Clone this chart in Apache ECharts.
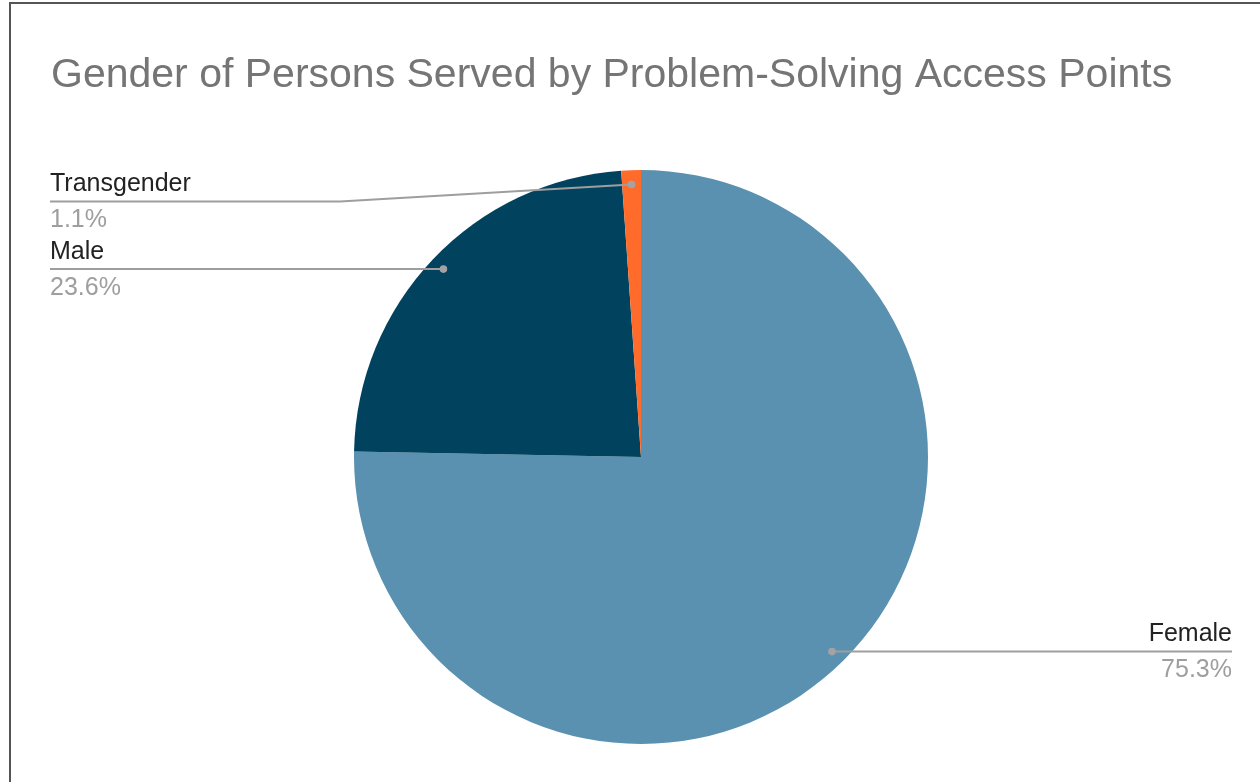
<!DOCTYPE html>
<html>
<head>
<meta charset="utf-8">
<script src="https://cdn.jsdelivr.net/npm/echarts@6/dist/echarts.min.js"></script>
<style>
  html, body { margin: 0; padding: 0; background: #ffffff; }
  #chart { width: 1260px; height: 782px; }
</style>
</head>
<body>
<div id="chart"></div>
<script>
// ---- data ----
const chartTitle = 'Gender of Persons Served by Problem-Solving Access Points';
const categories = ['Female', 'Male', 'Transgender'];
const values = [75.3, 23.6, 1.1];
const sliceColors = ['#5a91b0', '#01425f', '#ff6b2a'];

// ---- layout ----
const CENTER = [641, 457];
const RADIUS = 287;
const FONT = '"Liberation Sans", Arial, Helvetica, sans-serif';
const LEFT_EDGE = 50, RIGHT_EDGE = 1232;
const labelShift = { 'Transgender': { dy: 17, bend: 340 } };

const total = values.reduce((a, b) => a + b, 0);
function midAngle(i) {
  let before = 0;
  for (let k = 0; k < i; k++) before += values[k];
  return -Math.PI / 2 + (before + values[i] / 2) / total * 2 * Math.PI;
}
function dotPoint(i) {
  const a = midAngle(i);
  return [CENTER[0] + 0.95 * RADIUS * Math.cos(a), CENTER[1] + 0.95 * RADIUS * Math.sin(a)];
}
function leaderGeom(i) {
  const d = dotPoint(i);
  const isLeft = d[0] < CENTER[0];
  const sh = labelShift[categories[i]] || { dy: 0, bend: null };
  const ly = d[1] + sh.dy;
  const edgeX = isLeft ? LEFT_EDGE : RIGHT_EDGE;
  const bendX = sh.bend != null ? sh.bend : d[0];
  return { d, isLeft, ly, edgeX, points: [[d[0], d[1]], [bendX, ly], [edgeX, ly]] };
}

const chart = echarts.init(document.getElementById('chart'), null, { renderer: 'canvas' });

const leaders = [];
categories.forEach((c, i) => {
  const g = leaderGeom(i);
  leaders.push({
    type: 'polyline', z: 100, silent: true,
    shape: { points: g.points },
    style: { fill: 'none', stroke: '#9e9e9e', lineWidth: 2 }
  });
  leaders.push({
    type: 'circle', z: 101, silent: true,
    shape: { cx: g.d[0], cy: g.d[1], r: 3.8 },
    style: { fill: '#a3a3a3' }
  });
});

const option = {
  backgroundColor: '#ffffff',
  animation: false,
  title: {
    text: chartTitle,
    left: 46,
    top: 50,
    textStyle: { fontFamily: FONT, fontSize: 41, fontWeight: 'normal', color: '#757575' }
  },
  graphic: [
    {
      type: 'rect', z: 200, silent: true,
      shape: { x: 10, y: 3, width: 1400, height: 1000 },
      style: { fill: 'none', stroke: '#555555', lineWidth: 2 }
    }
  ].concat(leaders),
  series: [{
    type: 'pie',
    center: CENTER,
    radius: RADIUS,
    startAngle: 90,
    clockwise: true,
    avoidLabelOverlap: false,
    percentPrecision: 1,
    itemStyle: { borderWidth: 0 },
    data: categories.map((c, i) => ({ name: c, value: values[i], itemStyle: { color: sliceColors[i] } })),
    label: {
      show: true,
      position: 'outside',
      formatter: p => '{n|' + p.name + '}\n{p|' + p.percent.toFixed(1) + '%}',
      rich: {
        n: { fontFamily: FONT, fontSize: 25, color: '#222222', lineHeight: 38 },
        p: { fontFamily: FONT, fontSize: 25, color: '#9e9e9e', lineHeight: 34 }
      }
    },
    labelLine: { show: false },
    labelLayout: function (params) {
      const g = leaderGeom(params.dataIndex);
      return {
        x: g.edgeX,
        y: g.ly,
        align: g.isLeft ? 'left' : 'right',
        verticalAlign: 'middle'
      };
    }
  }]
};
chart.setOption(option);
</script>
</body>
</html>
